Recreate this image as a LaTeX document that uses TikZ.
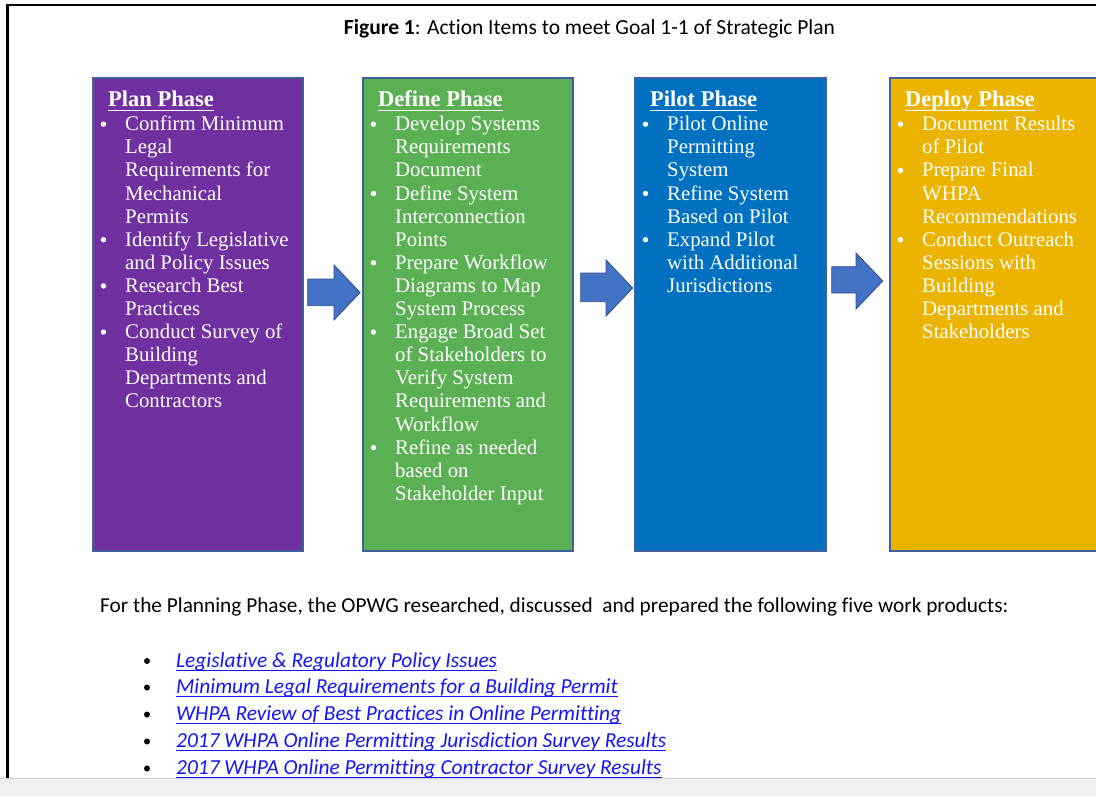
\documentclass[tikz,border=0pt]{standalone}
\usepackage{fontspec}
\setmainfont{Liberation Serif}
\newfontfamily\calibri[Ligatures=NoCommon]{Carlito}
\definecolor{plancol}{RGB}{112,48,160}
\definecolor{definecol}{RGB}{92,176,84}
\definecolor{pilotcol}{RGB}{0,112,192}
\definecolor{deploycol}{RGB}{235,180,0}
\definecolor{boxline}{RGB}{65,95,155}
\definecolor{arrowfill}{RGB}{68,114,196}
\definecolor{arrowline}{RGB}{47,82,143}
\definecolor{linkblue}{RGB}{20,20,255}
\definecolor{bandgray}{RGB}{240,240,240}
\definecolor{bandline}{RGB}{208,208,208}
\tikzset{
  phasebox/.style={draw=boxline, line width=1.2pt, rectangle, anchor=north west,
    minimum width=#1, minimum height=473pt, inner sep=0pt, outer sep=0pt},
  titletext/.style={anchor=base west, inner sep=0pt, text=white,
    font=\fontsize{22.5}{26}\selectfont\bfseries},
  bodytext/.style={anchor=base west, inner sep=0pt, text=white,
    font=\fontsize{20.8}{23.1}\selectfont},
  blockarrow/.style={fill=arrowfill, draw=arrowline, line width=0.9pt, line join=miter},
  linktext/.style={anchor=base west, inner sep=0pt, text=linkblue,
    font=\calibri\fontsize{21.4}{24}\selectfont\itshape},
}
\newcommand\phasetitle[3]{%
  \node[titletext] (#1) at ({#2+15},106.7) {#3};
  \draw[white, line width=1.5pt] ([yshift=-4pt]#1.base west) -- ([yshift=-4pt]#1.base east);}
\newcommand\phaseitem[4]{%
  \fill[white] ({#2+10.5},{130.7+23.1*#3-6.5}) circle (2.7pt);
  \foreach \t [count=\i from 0] in {#4}
    \node[bodytext] (#1-\i) at ({#2+32},{130.7+23.1*(#3+\i)}) {\t};}
\newcommand\linkitem[3]{%
  \fill[black] (147,{#2-6}) circle (3pt);
  \node[linktext] (#1) at (176,#2) {#3};
  \draw[linkblue, line width=1pt] ([yshift=-3pt]#1.base west) -- ([yshift=-3pt]#1.base east);}
\begin{document}
\begin{tikzpicture}[x=1pt,y=-1pt]
\useasboundingbox (0,0) rectangle (1096,796);
% page frame
\draw[black, line width=2.5pt] (7.5,778) -- (7.5,5) -- (1100,5);
% caption
\node[anchor=base, inner sep=0pt, font=\calibri\fontsize{21.5}{24}\selectfont] (caption) at (589.5,34)
  {\textbf{Figure 1}: Action Items to meet Goal 1-1 of Strategic Plan};
% phase boxes
\node[phasebox=210pt, fill=plancol] (plan) at (93,78) {};
\node[phasebox=210pt, fill=definecol] (define) at (363,78) {};
\node[phasebox=191pt, fill=pilotcol] (pilot) at (635,78) {};
\node[phasebox=220pt, fill=deploycol] (deploy) at (890,78) {};
% block arrows
\draw[blockarrow] (307.7,279) -- (334,279) -- (334,265) -- (360,292.5) -- (334,320) -- (334,305.7) -- (307.7,305.7) -- cycle;
\draw[blockarrow] (580.7,273) -- (606,273) -- (606,260) -- (632.7,288) -- (606,316) -- (606,301.7) -- (580.7,301.7) -- cycle;
\draw[blockarrow] (831.7,266.7) -- (856,266.7) -- (856,253) -- (882.7,281) -- (856,309) -- (856,293) -- (831.7,293) -- cycle;
% Plan
\phasetitle{plant}{93}{Plan Phase}
\phaseitem{pl1}{93}{0}{Confirm Minimum,Legal,Requirements for,Mechanical,Permits}
\phaseitem{pl2}{93}{5}{Identify Legislative,and Policy Issues}
\phaseitem{pl3}{93}{7}{Research Best,Practices}
\phaseitem{pl4}{93}{9}{Conduct Survey of,Building,Departments and,Contractors}
% Define
\phasetitle{deft}{363}{Define Phase}
\phaseitem{de1}{363}{0}{Develop Systems,Requirements,Document}
\phaseitem{de2}{363}{3}{Define System,Interconnection,Points}
\phaseitem{de3}{363}{6}{Prepare Workflow,Diagrams to Map,System Process}
\phaseitem{de4}{363}{9}{Engage Broad Set,of Stakeholders to,Verify System,Requirements and,Workflow}
\phaseitem{de5}{363}{14}{Refine as needed,based on,Stakeholder Input}
% Pilot
\phasetitle{pilt}{635}{Pilot Phase}
\phaseitem{pi1}{635}{0}{Pilot Online,Permitting,System}
\phaseitem{pi2}{635}{3}{Refine System,Based on Pilot}
\phaseitem{pi3}{635}{5}{Expand Pilot,with Additional,Jurisdictions}
% Deploy
\phasetitle{dept}{890}{Deploy Phase}
\phaseitem{dp1}{890}{0}{Document Results,of Pilot}
\phaseitem{dp2}{890}{2}{Prepare Final,WHPA,Recommendations}
\phaseitem{dp3}{890}{5}{Conduct Outreach,Sessions with,Building,Departments and,Stakeholders}
% paragraph
\node[anchor=base west, inner sep=0pt, font=\calibri\fontsize{21.3}{24}\selectfont] (para) at (100,612.5)
  {For the Planning Phase, the OPWG researched, discussed\ \ and prepared the following five work products:};
% links
\linkitem{lk1}{667}{Legislative \& Regulatory Policy Issues}
\linkitem{lk2}{693.5}{Minimum Legal Requirements for a Building Permit}
\linkitem{lk3}{720.5}{WHPA Review of Best Practices in Online Permitting}
\linkitem{lk4}{747.5}{2017 WHPA Online Permitting Jurisdiction Survey Results}
\linkitem{lk5}{774.5}{2017 WHPA Online Permitting Contractor Survey Results}
% bottom band
\fill[bandgray] (0,778) rectangle (1096,796);
\draw[bandline, line width=1pt] (0,778) -- (1096,778);
\end{tikzpicture}
\end{document}
